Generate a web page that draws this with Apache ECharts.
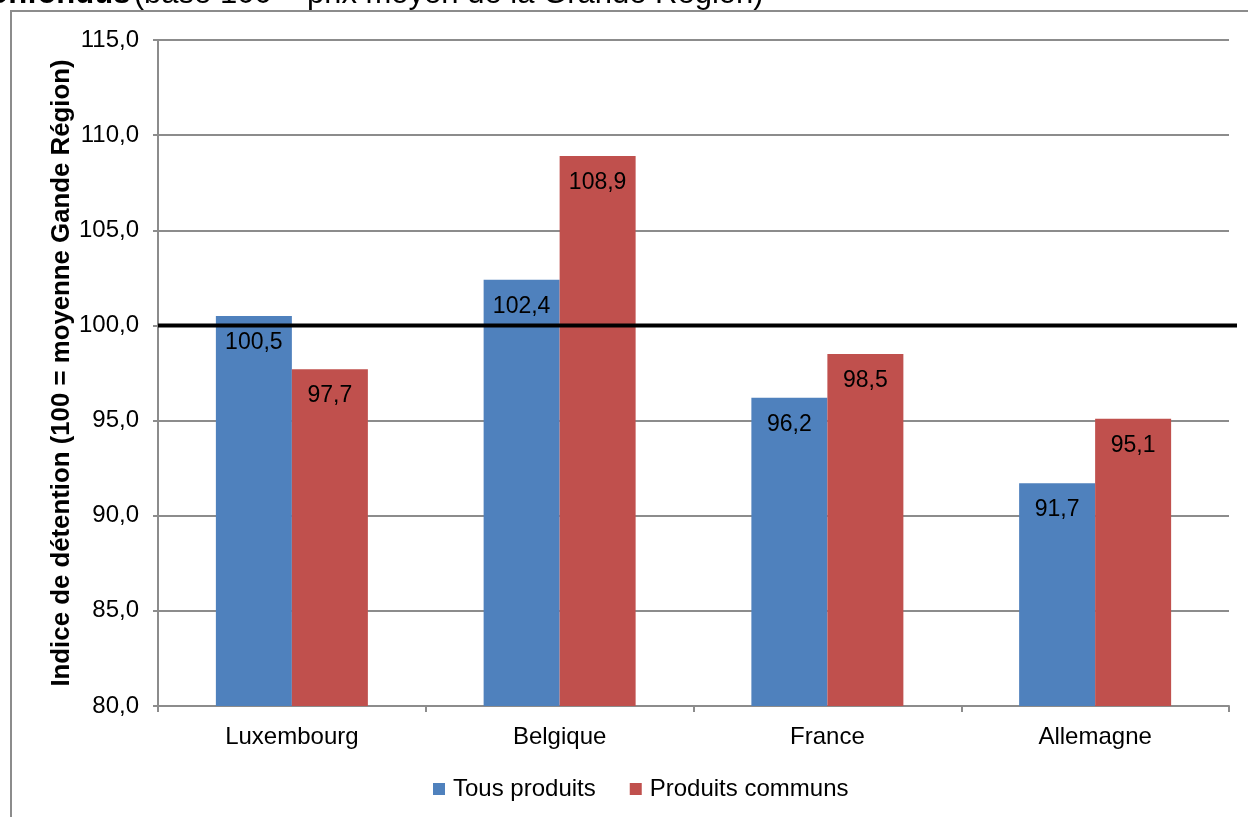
<!DOCTYPE html>
<html>
<head>
<meta charset="utf-8">
<script src="https://cdn.jsdelivr.net/npm/echarts@6/dist/echarts.min.js"></script>
<style>
  html, body { margin: 0; padding: 0; background: #fff; }
  #chart { width: 1248px; height: 817px; }
</style>
</head>
<body>
<div id="chart"></div>
<script>
// Price index by country, base 100 = Grande Région average
const categories = ['Luxembourg', 'Belgique', 'France', 'Allemagne'];
const tousProduits = [100.5, 102.4, 96.2, 91.7];
const produitsCommuns = [97.7, 108.9, 98.5, 95.1];
const seriesNames = ['Tous produits', 'Produits communs'];
const referenceLevel = 100;
const yMin = 80, yMax = 115, yStep = 5;

const FONT = '"Liberation Sans", Arial, sans-serif';
const GRID = '#8c8c8c';
const fmt = v => v.toFixed(1).replace('.', ',');

const chart = echarts.init(document.getElementById('chart'), null, { renderer: 'canvas' });

const grid = { left: 158, right: 19, top: 40, bottom: 111 };

const labelStyle = {
  show: true,
  position: 'insideTop',
  distance: 15,
  color: '#000',
  fontFamily: FONT,
  fontSize: 23,
  formatter: p => fmt(p.value)
};

chart.setOption({
  animation: false,
  backgroundColor: '#fff',
  textStyle: { fontFamily: FONT },
  grid: grid,
  legend: {
    data: seriesNames,
    left: 428,
    top: 772,
    icon: 'rect',
    itemWidth: 12,
    itemHeight: 12,
    itemGap: 34,
    textStyle: { fontFamily: FONT, fontSize: 24, color: '#000', padding: [0, 0, 0, 3] }
  },
  xAxis: {
    type: 'category',
    data: categories,
    axisLine: { lineStyle: { color: GRID, width: 2 } },
    axisTick: { show: true, length: 6, lineStyle: { color: GRID, width: 2 } },
    axisLabel: { color: '#000', fontFamily: FONT, fontSize: 24, margin: 19 }
  },
  yAxis: {
    type: 'value',
    min: yMin,
    max: yMax,
    interval: yStep,
    name: 'Indice de détention (100 = moyenne Gande Région)',
    nameLocation: 'middle',
    nameGap: 83,
    nameMoveOverlap: false,
    nameTextStyle: { fontFamily: FONT, fontSize: 25.8, fontWeight: 'bold', color: '#000' },
    axisLine: { show: true, lineStyle: { color: GRID, width: 2 } },
    axisTick: { show: true, length: 5, lineStyle: { color: GRID, width: 2 } },
    axisLabel: { color: '#000', fontFamily: FONT, fontSize: 24, margin: 19, formatter: v => fmt(v) },
    splitLine: { lineStyle: { color: GRID, width: 2 } }
  },
  series: [
    {
      name: seriesNames[0],
      type: 'bar',
      data: tousProduits,
      barWidth: 76,
      barGap: '0%',
      itemStyle: { color: '#4F81BD' },
      label: labelStyle
    },
    {
      name: seriesNames[1],
      type: 'bar',
      data: produitsCommuns,
      barWidth: 76,
      barGap: '0%',
      itemStyle: { color: '#C0504D' },
      label: labelStyle
    }
  ],
  graphic: [
    // outer frame of the figure
    {
      type: 'polyline',
      silent: true,
      shape: { points: [[11, 817], [11, 11], [1260, 11]] },
      style: { stroke: '#8c8c8c', lineWidth: 2, fill: null }
    },
    // heading (runs past the page edges)
    {
      type: 'text',
      left: -28,
      top: -21,
      style: {
        text: '{b|confondus} {n|(base 100 = prix moyen de la Grande Région)}',
        rich: {
          b: { fontFamily: FONT, fontSize: 31, fontWeight: 'bold', fill: '#000' },
          n: { fontFamily: FONT, fontSize: 31, fill: '#000' }
        }
      }
    }
  ]
});

// Reference line at the base value, drawn through the y scale
const yRef = chart.convertToPixel({ yAxisIndex: 0 }, referenceLevel);
chart.setOption({
  graphic: [
    {}, {},
    {
      type: 'line',
      silent: true,
      z: 10,
      shape: { x1: grid.left, y1: yRef, x2: 1248 - grid.right + 8, y2: yRef },
      style: { stroke: '#000', lineWidth: 4 }
    }
  ]
});
</script>
</body>
</html>
